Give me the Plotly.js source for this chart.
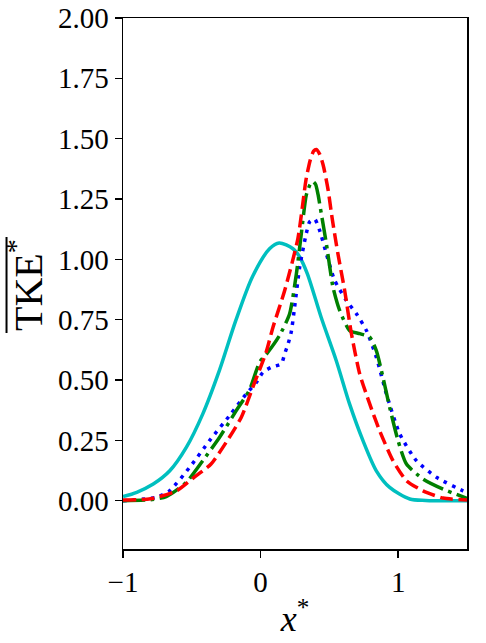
<!DOCTYPE html>
<html>
<head>
<meta charset="utf-8">
<script src="https://cdn.plot.ly/plotly-3.0.1.min.js"></script>
<style>html,body{margin:0;padding:0;background:#fff;}#chart{width:486px;height:643px;}</style>
</head>
<body>
<div id="chart"></div>
<script>
const cyanX = [-1, -0.9, -0.78, -0.66, -0.54, -0.42, -0.3, -0.18, -0.06, 0.065, 0.135, 0.235, 0.284, 0.34, 0.44, 0.55, 0.647, 0.744, 0.841, 0.938, 1.084, 1.2, 1.5];
const cyanY = [0.017, 0.035, 0.069, 0.124, 0.221, 0.36, 0.539, 0.747, 0.927, 1.044, 1.068, 1.044, 1.01, 0.94, 0.76, 0.58, 0.40, 0.249, 0.124, 0.055, 0.007, 0.001, 0.0];

const redX = [-1, -0.8, -0.61, -0.49, -0.36, -0.25, -0.14, -0.05, 0.04, 0.09, 0.175, 0.271, 0.33, 0.36, 0.385, 0.405, 0.43, 0.455, 0.49, 0.52, 0.562, 0.611, 0.66, 0.72, 0.793, 0.865, 0.962, 1.06, 1.18, 1.326, 1.5];
const redY = [0.003, 0.008, 0.041, 0.094, 0.152, 0.242, 0.346, 0.48, 0.615, 0.719, 0.871, 1.086, 1.33, 1.41, 1.448, 1.455, 1.435, 1.39, 1.29, 1.17, 1.023, 0.871, 0.692, 0.526, 0.401, 0.29, 0.166, 0.083, 0.041, 0.011, 0.003];

const greenX = [-1, -0.8, -0.686, -0.54, -0.42, -0.298, -0.177, -0.08, -0.007, 0.053, 0.138, 0.211, 0.26, 0.296, 0.332, 0.36, 0.38, 0.40, 0.417, 0.441, 0.478, 0.526, 0.575, 0.647, 0.72, 0.793, 0.841, 0.889, 0.938, 0.999, 1.06, 1.18, 1.326, 1.5];
const greenY = [0.0, 0.004, 0.017, 0.076, 0.166, 0.263, 0.373, 0.46, 0.574, 0.615, 0.685, 0.775, 0.94, 1.107, 1.266, 1.31, 1.322, 1.31, 1.27, 1.19, 1.065, 0.885, 0.788, 0.705, 0.692, 0.678, 0.622, 0.512, 0.387, 0.249, 0.152, 0.09, 0.048, 0.01];

const blueX = [-1, -0.76, -0.662, -0.516, -0.371, -0.225, -0.104, -0.031, 0.017, 0.078, 0.15, 0.175, 0.2, 0.223, 0.247, 0.284, 0.332, 0.356, 0.393, 0.429, 0.478, 0.538, 0.623, 0.696, 0.769, 0.841, 0.914, 1.011, 1.132, 1.278, 1.471, 1.5];
const blueY = [0.0, 0.014, 0.041, 0.138, 0.249, 0.353, 0.443, 0.49, 0.532, 0.553, 0.567, 0.609, 0.65, 0.70, 0.802, 0.968, 1.107, 1.155, 1.167, 1.12, 1.023, 0.913, 0.83, 0.775, 0.705, 0.595, 0.443, 0.277, 0.166, 0.097, 0.041, 0.035];

const xTicks = [-1, 0, 1];
const xTickText = ['\u22121', '0', '1'];
const yTicks = [0, 0.25, 0.5, 0.75, 1.0, 1.25, 1.5, 1.75, 2.0];
const yTickText = ['0.00', '0.25', '0.50', '0.75', '1.00', '1.25', '1.50', '1.75', '2.00'];

const FONT = 'Liberation Serif, DejaVu Serif, serif';
const W = 3.5;

const traces = [
  {x: cyanX, y: cyanY, mode: 'lines', line: {color: '#00bfbf', width: W, shape: 'spline', smoothing: 0.8}},
  {x: blueX, y: blueY, mode: 'lines', line: {color: '#0000ff', width: W, dash: '3.5px,5.8px', shape: 'spline', smoothing: 0.6}},
  {x: greenX, y: greenY, mode: 'lines', line: {color: '#008000', width: W, dash: '22px,5.6px,3.5px,5.6px', shape: 'spline', smoothing: 0.6}},
  {x: redX, y: redY, mode: 'lines', line: {color: '#ff0000', width: W, dash: '13px,5.6px', shape: 'spline', smoothing: 0.6}}
];

const layout = {
  width: 486, height: 643,
  margin: {l: 123, r: 19, t: 18, b: 94},
  paper_bgcolor: '#ffffff', plot_bgcolor: '#ffffff',
  showlegend: false,
  font: {family: FONT, color: '#000', size: 29},
  xaxis: {
    range: [-1, 1.5], tickvals: xTicks, ticktext: xTickText,
    ticks: 'outside', ticklen: 7, tickwidth: 1.5, tickcolor: '#000',
    showline: true, linecolor: '#000', linewidth: 1.5, mirror: true,
    showgrid: false, zeroline: false,
    tickfont: {family: FONT, size: 29},
    title: {text: '<i>x</i><sup>*</sup>', font: {family: FONT, size: 36}, standoff: 8}
  },
  yaxis: {
    range: [-0.2, 2.0], tickvals: yTicks, ticktext: yTickText,
    ticks: 'outside', ticklen: 7, tickwidth: 1.5, tickcolor: '#000',
    showline: true, linecolor: '#000', linewidth: 1.5, mirror: true,
    showgrid: false, zeroline: false,
    tickfont: {family: FONT, size: 29}
  },
  annotations: [{
    xref: 'paper', yref: 'paper', x: -0.2853, y: 0.497,
    xanchor: 'center', yanchor: 'middle', showarrow: false, textangle: -90,
    text: 'TKE<sup>*</sup>', font: {family: FONT, size: 40, color: '#000'}
  }],
  shapes: [{
    type: 'line', xref: 'paper', yref: 'paper',
    x0: -0.3386, x1: -0.3386, y0: 0.4068, y1: 0.5876,
    line: {color: '#000', width: 2}
  }]
};

Plotly.newPlot('chart', traces, layout, {staticPlot: true, displayModeBar: false});
</script>
</body>
</html>
